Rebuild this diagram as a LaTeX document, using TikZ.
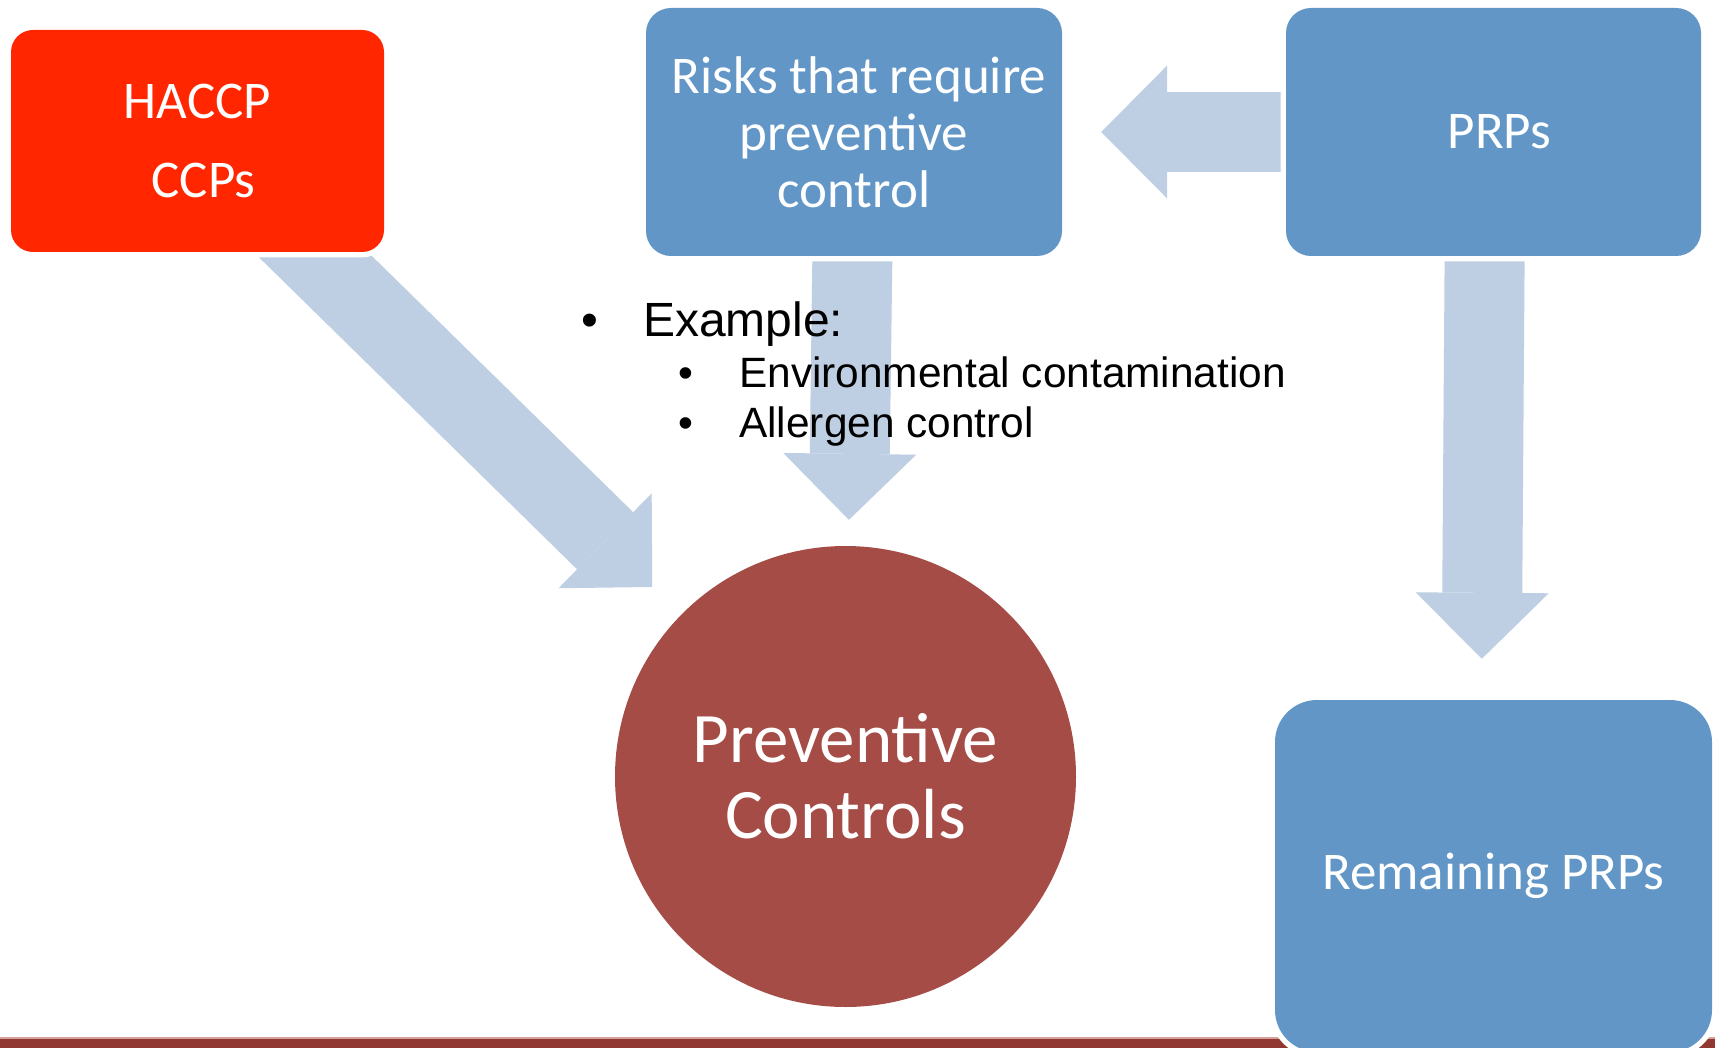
\documentclass[tikz,border=0pt]{standalone}
\usepackage{fontspec}
\setmainfont{Carlito}
\newfontfamily\bulletfont{Liberation Sans}
\usetikzlibrary{arrows.meta,backgrounds}
\definecolor{haccpred}{RGB}{255,38,0}
\definecolor{boxblue}{RGB}{97,150,199}
\definecolor{arrowblue}{RGB}{190,206,227}
\definecolor{pcred}{RGB}{165,76,70}
\definecolor{barred}{RGB}{145,56,50}
\definecolor{barpink}{RGB}{214,160,155}
\tikzset{
  % 1: corner radius
  box/.style={rectangle, rounded corners=#1, inner sep=0pt, text=white, align=center,
    font=\fontsize{53}{57}\selectfont, preaction={draw=white, line width=11pt}},
  bigarrow/.style={draw=arrowblue, line width=80pt,
    -{Triangle[length=66pt, width=133pt, line width=0pt]}},
  % 1: font size
  bulletline/.style={font=\bulletfont\fontsize{#1}{#1}\selectfont, inner sep=0pt},
}

\begin{document}
\begin{tikzpicture}[x=1pt,y=-1pt]
    \useasboundingbox (0,0) rectangle (1715,1048);

    \node[box=22pt, fill=haccpred, minimum width=373pt, minimum height=222pt,
      font=\fontsize{53}{79}\selectfont] (haccp) at (197.5,141) {HACCP\\\hspace*{12pt}CCPs};
    \node[box=25pt, fill=boxblue, minimum width=416pt, minimum height=248pt] (risks) at (854,132) {\hspace*{10pt}Risks that require\\preventive\\control};
    \node[box=25pt, fill=boxblue, minimum width=415pt, minimum height=248pt] (prps) at (1493.5,132) {\hspace*{12pt}PRPs\rule{0pt}{0pt}};
    \node[box=42pt, fill=boxblue, minimum width=437pt, minimum height=352pt] (rem) at (1493.5,876) {\raisebox{-4pt}{Remaining PRPs}};
    \node[circle, fill=pcred, minimum size=461pt, inner sep=0pt, text=white, align=center,
      font=\fontsize{71}{76}\selectfont] (pc) at (845.5,776.5) {Preventive\\Controls};

    % bullet list
    \node[bulletline=48, anchor=base] (dot0) at (590,337) {\textbullet};
    \node[bulletline=48, anchor=base west] (ex) at (643,337) {Example:};
    \node[bulletline=42.4, anchor=base] (dot1) at (686,387) {\textbullet};
    \node[bulletline=42.4, anchor=base west] (env) at (739,387) {Environmental contamination};
    \node[bulletline=42.4, anchor=base] (dot2) at (686,437) {\textbullet};
    \node[bulletline=42.4, anchor=base west] (allergen) at (739,437) {Allergen control};

    % arrows and bar go under the boxes
    \begin{scope}[on background layer]
      \fill[white] (0,0) rectangle (1715,1048);
      \fill[barred] (0,1038) rectangle (1715,1048);
      \fill[barpink] (0,1037) rectangle (1715,1039);
      \draw[bigarrow, shorten >=40pt] (haccp.center) -- (pc);
      \draw[bigarrow, shorten >=26pt] (risks.center) -- (pc);
      \draw[bigarrow, shorten >=39pt] (prps.center) -- (risks);
      \draw[bigarrow, shorten >=41pt] ([xshift=-8pt]prps.center) -- ([xshift=-12pt]rem.north);
    \end{scope}
\end{tikzpicture}
\end{document}
